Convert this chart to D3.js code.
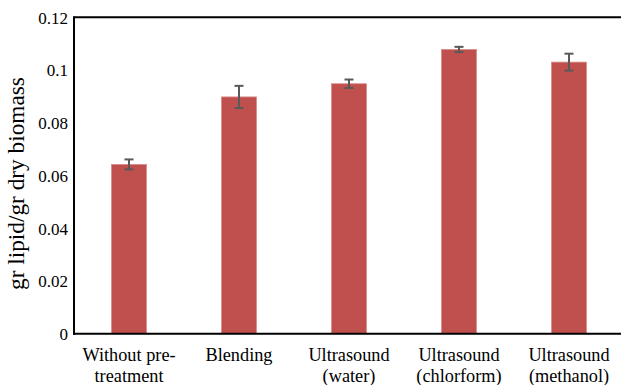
<!DOCTYPE html>
<html>
<head>
<meta charset="utf-8">
<script src="https://cdn.jsdelivr.net/npm/d3@7"></script>
<style>
  html, body { margin: 0; padding: 0; background: #fff; }
  svg { display: block; }
</style>
</head>
<body>
<svg id="chart" width="621" height="385"></svg>
<script>
// Lipid yield per pre-treatment method
const categories = [
  ["Without pre-", "treatment"],
  ["Blending"],
  ["Ultrasound", "(water)"],
  ["Ultrasound", "(chlorform)"],
  ["Ultrasound", "(methanol)"]
];
const values = [0.0642, 0.0898, 0.0948, 0.1078, 0.1030];
const errors = [0.0019, 0.0042, 0.0016, 0.0010, 0.0032];
const yTicks = [0, 0.02, 0.04, 0.06, 0.08, 0.1, 0.12];
const yTitle = "gr lipid/gr dry biomass";

const SERIF = "'Liberation Serif', 'Times New Roman', serif";
const svg = d3.select("#chart");
const plotLeft = 74, plotRight = 624, plotTop = 17.3, plotBottom = 333.7;

const keys = categories.map((c, i) => i);
const x = d3.scaleBand().domain(keys).range([plotLeft, plotRight]).paddingInner(0.682).paddingOuter(0.341);
const y = d3.scaleLinear().domain([0, 0.12]).range([plotBottom, plotTop]);

// bars
svg.append("g").selectAll("rect").data(values).join("rect")
  .attr("x", (d, i) => x(i))
  .attr("y", d => y(d))
  .attr("width", x.bandwidth())
  .attr("height", d => y(0) - y(d))
  .attr("fill", "#c0504d")
  .attr("stroke", "#d98a88")
  .attr("stroke-width", 0.8);

// error bars
const eg = svg.append("g").attr("stroke", "#595959").attr("stroke-width", 2).attr("fill", "none");
values.forEach((v, i) => {
  const cx = x(i) + x.bandwidth() / 2;
  const y1 = y(v + errors[i]), y2 = y(v - errors[i]);
  eg.append("line").attr("x1", cx).attr("x2", cx).attr("y1", y1).attr("y2", y2);
  eg.append("line").attr("x1", cx - 4.5).attr("x2", cx + 4.5).attr("y1", y1).attr("y2", y1);
  eg.append("line").attr("x1", cx - 4.5).attr("x2", cx + 4.5).attr("y1", y2).attr("y2", y2);
});

// frame lines: top, left, bottom
const fg = svg.append("g").attr("stroke", "#000").attr("stroke-width", 2);
fg.append("line").attr("x1", plotLeft).attr("x2", 621).attr("y1", plotTop).attr("y2", plotTop);
fg.append("line").attr("x1", plotLeft).attr("x2", plotLeft).attr("y1", plotTop - 1).attr("y2", plotBottom + 1);
fg.append("line").attr("x1", plotLeft - 1).attr("x2", 621).attr("y1", plotBottom).attr("y2", plotBottom);

// y axis labels
const yAxis = d3.axisLeft(y).tickValues(yTicks).tickSize(0).tickPadding(6)
  .tickFormat(d => d === 0 ? "0" : String(+d.toFixed(2)));
const ya = svg.append("g").attr("transform", `translate(${plotLeft},0)`).call(yAxis);
ya.attr("font-family", null).attr("font-size", null);
ya.select(".domain").remove();
ya.selectAll("text")
  .style("font-family", SERIF).style("font-size", "17px").style("fill", "#000")
  .attr("dy", "0.34em");

// x category labels
const xa = svg.append("g");
categories.forEach((lines, i) => {
  const cx = x(i) + x.bandwidth() / 2;
  const t = xa.append("text").attr("text-anchor", "middle")
    .style("font-family", SERIF).style("font-size", "18.3px").style("fill", "#000");
  lines.forEach((ln, j) => {
    t.append("tspan").attr("x", cx).attr("y", 360.5 + j * 21).text(ln);
  });
});

// y title
svg.append("text")
  .attr("transform", "translate(24,183.5) rotate(-90)")
  .attr("text-anchor", "middle")
  .style("font-family", SERIF).style("font-size", "23.3px").style("fill", "#000")
  .text(yTitle);
</script>
</body>
</html>
